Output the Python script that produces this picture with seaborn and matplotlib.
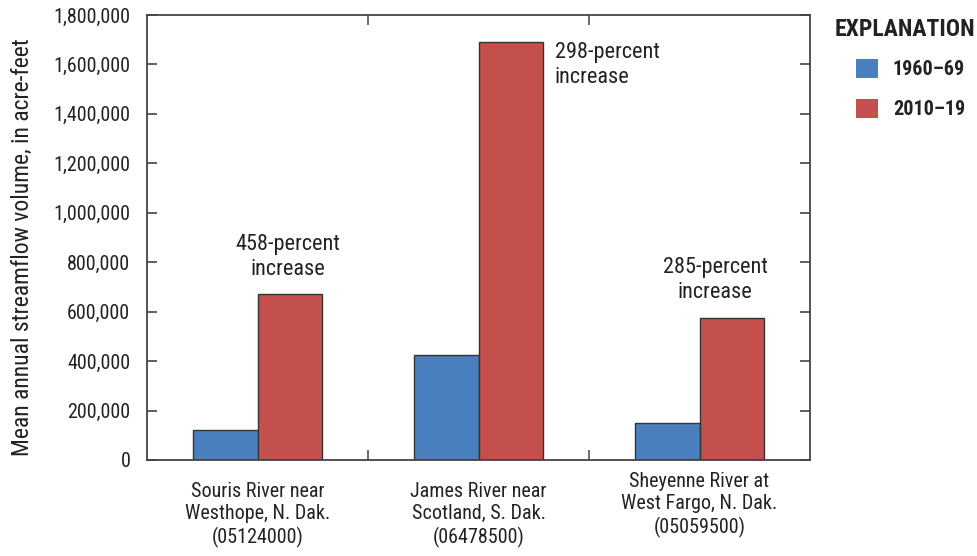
import matplotlib
matplotlib.use("Agg")
import matplotlib.pyplot as plt
import matplotlib.transforms as mtransforms
from matplotlib.patches import Patch
from matplotlib.ticker import FuncFormatter
import pandas as pd
import seaborn as sns

sites = [
    "Souris River near\nWesthope, N. Dak.\n(05124000)",
    "James River near\nScotland, S. Dak.\n(06478500)",
    "Sheyenne River at\nWest Fargo, N. Dak.\n(05059500)",
]
periods = ["1960\u201369", "2010\u201319"]
vol_1960s = [120300, 425000, 149500]
vol_2010s = [671000, 1692000, 575000]
increase_labels = ["458-percent\nincrease", "298-percent\nincrease", "285-percent\nincrease"]

colors = ["#4a7fc0", "#c4504e"]

df = pd.DataFrame({
    "site": sites * 2,
    "period": [periods[0]] * 3 + [periods[1]] * 3,
    "volume": vol_1960s + vol_2010s,
})

sns.set_theme(style="white")
plt.rcParams["font.family"] = ["Roboto Condensed", "Liberation Sans Narrow", "Roboto", "DejaVu Sans"]

fig = plt.figure(figsize=(9.77, 5.56), dpi=100)
ax = fig.add_axes([0.1505, 0.1727, 0.6786, 0.8003])

sns.barplot(data=df, x="site", y="volume", hue="period", order=sites,
            hue_order=periods, palette=colors, width=0.58, ax=ax,
            edgecolor="#333333", linewidth=1.0, legend=False, saturation=1)

ax.set_xlim(-0.5, 2.5)
ax.set_ylim(0, 1800000)
ax.set_yticks(range(0, 1800001, 200000))
ax.yaxis.set_major_formatter(FuncFormatter(lambda v, p: f"{int(v):,}"))
ax.set_xlabel("")
ax.set_ylabel("")
fig.text(22 / 977, 1 - 247.5 / 556, "Mean annual streamflow volume, in acre-feet",
         rotation=90, ha="center", va="center", fontsize=17, color="#222222")

for s in ax.spines.values():
    s.set_color("#444444")
    s.set_linewidth(1.3)

ax.tick_params(axis="y", which="major", direction="in", length=7, width=1.1,
               colors="#333333", left=True, right=True, labelsize=14.5,
               labelcolor="#222222", pad=12)
ax.tick_params(axis="x", which="major", length=0, labelsize=14.5,
               labelcolor="#222222", pad=16)
ax.set_xticks([0.5, 1.5], minor=True)
ax.tick_params(axis="x", which="minor", direction="in", length=7, width=1.1,
               colors="#444444", bottom=True, top=True)

for lab in ax.get_xticklabels():
    lab.set_linespacing(1.2)
# raise the Sheyenne label a little, like the reference
lbl = ax.get_xticklabels()[2]
lbl.set_transform(lbl.get_transform() + mtransforms.ScaledTranslation(0, 10 / 100, fig.dpi_scale_trans))

# percent-increase annotations
ax.text(0.138, 821000, increase_labels[0], ha="center", va="center",
        fontsize=16, color="#222222", linespacing=1.25)
ax.text(1.346, 1598000, increase_labels[1], ha="left", va="center",
        fontsize=16, color="#222222", linespacing=1.25)
ax.text(2.07, 728000, increase_labels[2], ha="center", va="center",
        fontsize=16, color="#222222", linespacing=1.25)

# explanation legend
handles = [Patch(facecolor=c, edgecolor="none") for c in colors]
leg = fig.legend(handles, periods, loc="upper left", bbox_to_anchor=(856 / 977, 1 - 59 / 556),
                 frameon=False, borderpad=0, borderaxespad=0,
                 handlelength=1.08, handleheight=1.08,
                 labelspacing=0.95, handletextpad=0.75,
                 prop={"size": 14.5, "weight": "bold"})
for t in leg.get_texts():
    t.set_color("#222222")
fig.text(835 / 977, 1 - 30 / 556, "EXPLANATION", fontsize=17, fontweight="bold",
         color="#222222", ha="left", va="center")

fig.savefig("out.png", dpi=100)
